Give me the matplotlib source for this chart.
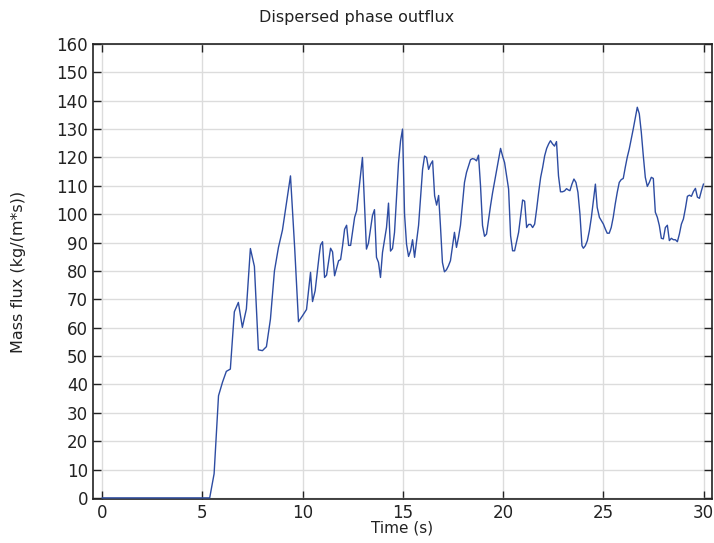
import numpy as np
import matplotlib.pyplot as plt

# time (s) and dispersed phase mass flux (kg/(m*s))
time_s = [0.0, 5.36, 5.58, 5.80, 6.00, 6.19, 6.39, 6.59, 6.79, 6.99, 7.19, 7.39, 7.59,
          7.79, 7.99, 8.19, 8.39, 8.59, 8.79, 8.99, 9.19, 9.39, 9.60, 9.79, 9.99,
          10.19, 10.39, 10.49, 10.62, 10.82, 10.89, 10.99, 11.09, 11.19, 11.39, 11.49,
          11.59, 11.79, 11.89, 11.99, 12.09, 12.19, 12.29, 12.39, 12.59, 12.69, 12.98,
          13.18, 13.28, 13.48, 13.58, 13.68, 13.78, 13.88, 13.98, 14.18, 14.28, 14.38,
          14.48, 14.58, 14.78, 14.88, 14.98, 15.08, 15.18, 15.28, 15.38, 15.48, 15.58,
          15.78, 15.98, 16.08, 16.18, 16.28, 16.38, 16.48, 16.58, 16.68, 16.78, 16.87,
          16.97, 17.07, 17.17, 17.27, 17.37, 17.57, 17.67, 17.77, 17.87, 18.07, 18.17,
          18.27, 18.37, 18.47, 18.57, 18.67, 18.77, 18.87, 18.97, 19.07, 19.17, 19.37,
          19.47, 19.67, 19.87, 19.97, 20.07, 20.27, 20.37, 20.47, 20.57, 20.77, 20.97,
          21.07, 21.17, 21.27, 21.37, 21.47, 21.57, 21.67, 21.77, 21.87, 21.97, 22.07,
          22.17, 22.27, 22.36, 22.46, 22.56, 22.66, 22.76, 22.86, 22.96, 23.06, 23.16,
          23.26, 23.33, 23.43, 23.53, 23.63, 23.73, 23.83, 23.93, 24.00, 24.10, 24.20,
          24.30, 24.40, 24.50, 24.60, 24.69, 24.80, 24.90, 25.00, 25.10, 25.19, 25.29,
          25.39, 25.49, 25.59, 25.69, 25.79, 25.89, 25.99, 26.09, 26.19, 26.29, 26.39,
          26.49, 26.59, 26.69, 26.79, 26.89, 26.99, 27.09, 27.19, 27.29, 27.39, 27.49,
          27.59, 27.69, 27.79, 27.89, 27.99, 28.09, 28.19, 28.29, 28.39, 28.49, 28.59,
          28.69, 28.79, 28.89, 28.99, 29.09, 29.19, 29.29, 29.39, 29.49, 29.59, 29.69,
          29.79, 29.89, 29.99]
mass_flux = [0.0, 0.0, 8.5, 36.0, 40.8, 44.6, 45.4, 65.6, 68.9, 60.1, 66.6, 87.9, 81.6,
             52.2, 51.9, 53.3, 63.0, 80.0, 88.3, 94.4, 104.0, 113.5, 88.0, 62.1, 64.2,
             66.4, 79.5, 69.2, 73.0, 85.4, 89.1, 90.3, 77.7, 78.5, 88.0, 86.7,
             78.3, 83.6, 84.0, 88.9, 94.7, 96.1, 89.0, 89.0, 98.9, 101.2, 120.0,
             87.7, 89.8, 99.5, 101.6, 84.8, 83.0, 77.7, 86.5, 95.3, 103.9, 87.0,
             87.9, 93.6, 118.2, 125.8, 130.0, 100.0, 89.4, 85.1, 87.1, 91.0, 84.8,
             96.1, 115.8, 120.5, 120.0, 115.8, 117.6, 118.8, 106.5, 103.2, 106.6, 96.0,
             83.0, 79.7, 80.4, 81.8, 83.6, 93.6, 88.3, 91.8, 96.1, 111.2, 114.7,
             117.0, 119.2, 119.6, 119.4, 118.8, 120.8, 110.0, 96.0, 92.2, 93.0, 103.0,
             107.5, 115.3, 123.2, 120.5, 118.2, 108.9, 92.4, 87.1, 87.1, 93.6, 105.0,
             104.6, 95.3, 96.4, 96.4, 95.3, 96.5, 101.8, 107.7, 113.0, 116.5, 120.6,
             123.2, 124.8, 125.9, 124.8, 124.0, 125.6, 113.5, 107.9, 107.9, 108.2, 109.0,
             108.5, 108.3, 110.6, 112.4, 111.2, 107.7, 100.0, 88.9, 88.0, 88.9, 90.7,
             94.2, 98.9, 104.8, 110.6, 102.4, 98.9, 97.7, 96.5, 94.7, 93.3, 93.3,
             95.3, 98.9, 103.6, 107.7, 111.2, 112.2, 112.6, 116.5, 120.1, 123.0, 126.5,
             130.1, 133.8, 137.7, 135.4, 128.9, 120.6, 113.0, 109.8, 111.2, 113.0, 112.6,
             100.7, 98.9, 96.0, 91.5, 91.3, 95.3, 96.1, 90.7, 91.5, 91.0, 91.0,
             90.3, 93.0, 96.5, 98.3, 102.0, 106.3, 106.7, 106.3, 108.0, 109.1, 106.0,
             105.6, 108.3, 110.6]

x_ticks = [0, 5, 10, 15, 20, 25, 30]
y_ticks = list(range(0, 161, 10))

fig = plt.figure(figsize=(7.14, 5.43), dpi=100)
ax = fig.add_axes([0.130, 0.081, 0.867, 0.838])

ax.plot(time_s, mass_flux, color='#2d4ca2', linewidth=1.0, zorder=3)

ax.set_xlim(-0.47, 30.41)
ax.set_ylim(-0.4, 160)
ax.set_xticks(x_ticks)
ax.set_yticks(y_ticks)
ax.grid(True, color='#dcdcdc', linewidth=1.0, zorder=0)
ax.tick_params(direction='in', top=True, right=True, length=6, width=1,
               labelsize=12, color='#222222', labelcolor='#222222')
for s in ax.spines.values():
    s.set_linewidth(1.2)
    s.set_color('#222222')

ax.set_xlabel('Time (s)', fontsize=11, labelpad=-1, color='#222222')
ax.set_ylabel('Mass flux (kg/(m*s))', fontsize=11.5, labelpad=22, color='#222222')
fig.suptitle('Dispersed phase outflux', fontsize=11.5, y=0.968, va='center',
             color='#222222')

fig.savefig('out.png', dpi=100)
